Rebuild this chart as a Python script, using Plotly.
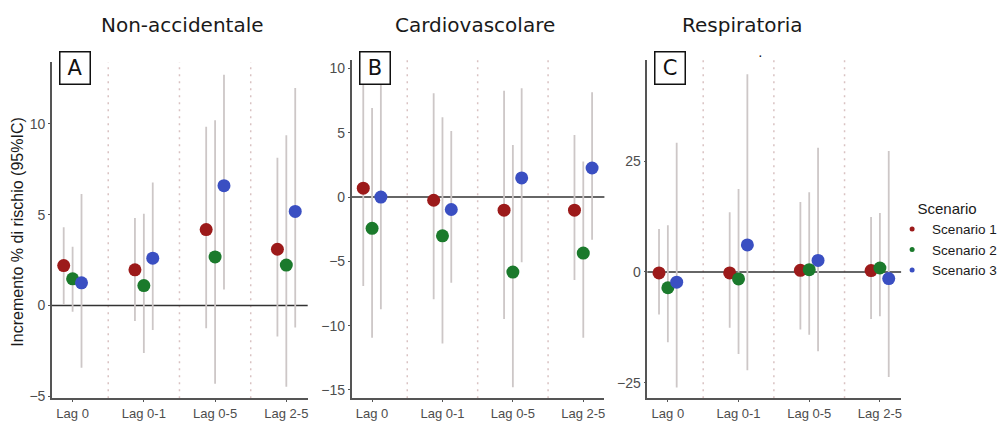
import plotly.graph_objects as go

# ---------------- data ----------------
lags = ["Lag 0", "Lag 0-1", "Lag 0-5", "Lag 2-5"]
scenarios = ["Scenario 1", "Scenario 2", "Scenario 3"]
panel_titles = ["Non-accidentale", "Cardiovascolare", "Respiratoria"]
panel_letters = ["A", "B", "C"]

# Non-accidentale
A_est = {"Scenario 1": [2.2, 1.97, 4.18, 3.1],
         "Scenario 2": [1.47, 1.1, 2.68, 2.23],
         "Scenario 3": [1.25, 2.61, 6.6, 5.18]}
A_lo = {"Scenario 1": [0.05, -0.85, -1.25, -1.7],
        "Scenario 2": [-0.34, -2.61, -4.3, -4.47],
        "Scenario 3": [-3.42, -1.34, 0.89, -1.21]}
A_hi = {"Scenario 1": [4.31, 4.82, 9.84, 8.13],
        "Scenario 2": [3.24, 5.05, 10.2, 9.38],
        "Scenario 3": [6.14, 6.77, 12.7, 11.97]}

# Cardiovascolare
B_est = {"Scenario 1": [0.69, -0.25, -1.02, -1.02],
         "Scenario 2": [-2.43, -3.02, -5.84, -4.36],
         "Scenario 3": [0.0, -0.97, 1.49, 2.26]}
B_lo = {"Scenario 1": [-6.92, -7.95, -9.49, -6.46],
        "Scenario 2": [-10.95, -11.4, -14.8, -10.95],
        "Scenario 3": [-8.72, -6.67, -5.07, -3.33]}
B_hi = {"Scenario 1": [9.5, 8.08, 8.26, 4.82],
        "Scenario 2": [6.92, 6.2, 4.05, 2.77],
        "Scenario 3": [10.2, 5.13, 8.46, 8.15]}

# Respiratoria
C_est = {"Scenario 1": [-0.22, -0.22, 0.37, 0.3],
         "Scenario 2": [-3.57, -1.57, 0.52, 0.89],
         "Scenario 3": [-2.31, 6.1, 2.6, -1.5]}
C_lo = {"Scenario 1": [-9.6, -12.6, -13.0, -10.6],
        "Scenario 2": [-15.85, -18.5, -14.2, -10.0],
        "Scenario 3": [-26.1, -22.2, -17.9, -23.7]}
C_hi = {"Scenario 1": [9.67, 13.5, 15.8, 12.4],
        "Scenario 2": [10.56, 18.7, 18.0, 13.3],
        "Scenario 3": [29.15, 44.6, 28.0, 27.3]}

y_ranges = [[-5.1, 13.4], [-15.65, 10.65], [-28.5, 47.8]]
y_ticks = [[-5, 0, 5, 10], [-15, -10, -5, 0, 5, 10], [-25, 0, 25]]

# ---------------- styling ----------------
W, H = 1008, 421
DY = 3  # vertical nudge in px
colors = {"Scenario 1": "#9c1a1a", "Scenario 2": "#1b7a2c", "Scenario 3": "#3a4fc2"}
offsets = {"Scenario 1": -0.125, "Scenario 2": 0.0, "Scenario 3": 0.125}
# panel pixel boxes: (left, right, top, bottom)
boxes = [(52, 308, 60 + DY, 401 + DY), (352, 605, 58 + DY, 401 + DY), (648, 902, 58 + DY, 401 + DY)]
title_x = [183, 475, 743]

fig = go.Figure()
panels = [(A_est, A_lo, A_hi), (B_est, B_lo, B_hi), (C_est, C_lo, C_hi)]

layout = dict(width=W, height=H, margin=dict(l=0, r=0, t=0, b=0),
              plot_bgcolor="white", paper_bgcolor="white",
              font=dict(family="Liberation Sans, Arial, sans-serif", color="#4d4d4d"))
shapes, annotations = [], []

for i, (est, lo, hi) in enumerate(panels):
    xa = "x" if i == 0 else f"x{i+1}"
    ya = "y" if i == 0 else f"y{i+1}"
    l, r, t, b = boxes[i]
    layout["xaxis" if i == 0 else f"xaxis{i+1}"] = dict(
        domain=[l / W, r / W], range=[-0.29, 3.3], anchor=ya,
        tickmode="array", tickvals=list(range(len(lags))), ticktext=lags,
        showgrid=False, zeroline=False, showline=True, linecolor="#555555", linewidth=1.5,
        ticks="outside", ticklen=2, tickcolor="#555555", tickfont=dict(size=13, color="#4d4d4d"))
    layout["yaxis" if i == 0 else f"yaxis{i+1}"] = dict(
        domain=[1 - b / H, 1 - t / H], range=y_ranges[i], anchor=xa,
        tickmode="array", tickvals=y_ticks[i],
        showgrid=False, zeroline=False, showline=True, linecolor="#555555", linewidth=1.5,
        ticks="outside", ticklen=2, tickcolor="#555555", tickfont=dict(size=14, color="#4d4d4d"))

    # dotted separators
    for sx in [0.5, 1.5, 2.5]:
        shapes.append(dict(type="line", xref=xa, yref=f"{ya} domain", x0=sx, x1=sx, y0=0, y1=1,
                           line=dict(color="#d9c2c2", width=1.5, dash="2px,5px"), layer="below"))
    # zero line
    shapes.append(dict(type="line", xref=f"{xa} domain", yref=ya, x0=0, x1=1, y0=0, y1=0,
                       line=dict(color="#333333", width=1.5), layer="below"))

    # CI lines
    for s in scenarios:
        xs = [k + offsets[s] for k in range(len(lags))]
        fig.add_trace(go.Scatter(
            x=xs, y=est[s], xaxis=xa, yaxis=ya, mode="markers",
            marker=dict(size=1, opacity=0, color=colors[s]),
            error_y=dict(type="data", symmetric=False,
                         array=[h - e for h, e in zip(hi[s], est[s])],
                         arrayminus=[e - lo_ for e, lo_ in zip(est[s], lo[s])],
                         color="#cdc7c7", thickness=1.8, width=0),
            showlegend=False, hoverinfo="skip"))
    # points
    for s in scenarios:
        xs = [k + offsets[s] for k in range(len(lags))]
        fig.add_trace(go.Scatter(
            x=xs, y=est[s], xaxis=xa, yaxis=ya, mode="markers",
            marker=dict(size=13, color=colors[s], line=dict(width=0)),
            showlegend=False, name=s))

    # panel title
    annotations.append(dict(xref="paper", yref="paper", x=title_x[i] / W, y=1 - (22 + DY) / H,
                            text=panel_titles[i], showarrow=False, xanchor="center", yanchor="middle",
                            font=dict(size=20, color="#1a1a1a", family="DejaVu Sans")))
    # panel letter box
    annotations.append(dict(xref="paper", yref="paper", x=(l + 23) / W, y=1 - (66 + DY) / H,
                            text=panel_letters[i], showarrow=False, xanchor="center", yanchor="middle",
                            width=27, height=29, borderpad=1, bordercolor="#111111", borderwidth=1.5,
                            bgcolor="white", font=dict(size=21, color="#111111", family="DejaVu Sans")))

# legend-only traces
for s in scenarios:
    fig.add_trace(go.Scatter(x=[None], y=[None], mode="markers", name=s,
                             marker=dict(size=5, color=colors[s]), showlegend=True))

annotations.append(dict(xref="paper", yref="paper", x=18 / W, y=1 - (232 + DY) / H,
                        text="Incremento % di rischio (95%IC)", textangle=-90, showarrow=False,
                        xanchor="center", yanchor="middle",
                        font=dict(size=16, color="#1a1a1a")))
annotations.append(dict(xref="paper", yref="paper", x=766 / W, y=1 - (43 + DY) / H, text="·",
                        showarrow=False, font=dict(size=14, color="#111111")))

layout["shapes"] = shapes
layout["annotations"] = annotations
layout["legend"] = dict(x=893 / W, y=1 - (194 + DY) / H, xanchor="left", yanchor="top",
                        title=dict(text="Scenario", side="top center",
                                   font=dict(size=15, color="#1a1a1a")),
                        font=dict(size=13.5, color="#1a1a1a"), itemwidth=30, tracegroupgap=0,
                        bgcolor="rgba(0,0,0,0)")
fig.update_layout(**layout)
fig.write_html("out.html", config={"displayModeBar": False},
               post_script="document.body.style.margin='0';document.body.style.overflow='hidden';")
